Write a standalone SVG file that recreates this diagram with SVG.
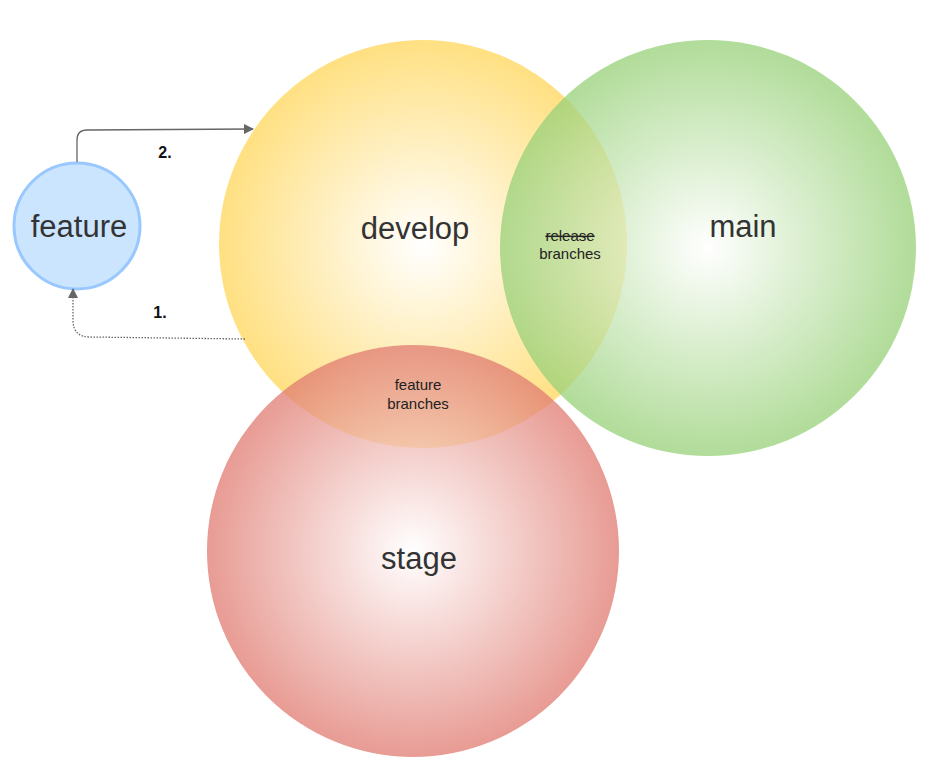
<svg xmlns="http://www.w3.org/2000/svg" width="935" height="763" viewBox="0 0 935 763">
<style>
.big{font-family:"Liberation Sans",Arial,sans-serif;font-size:31px;fill:#333;text-anchor:middle}
.small{font-family:"Liberation Sans",Arial,sans-serif;font-size:15px;fill:#222;text-anchor:middle}
.lbl{font-family:"Liberation Sans",Arial,sans-serif;font-size:16px;font-weight:bold;fill:#111;text-anchor:middle}
.conn{fill:none;stroke:#666;stroke-width:1.3}
</style>
<defs>
<radialGradient id="gDev" cx="0.5" cy="0.5" r="0.5"><stop offset="0" stop-color="#ffffff"/><stop offset="1" stop-color="#ffd966"/></radialGradient>
<radialGradient id="gMain" cx="0.5" cy="0.5" r="0.5"><stop offset="0" stop-color="#ffffff"/><stop offset="1" stop-color="#97d077"/></radialGradient>
<radialGradient id="gStage" cx="0.5" cy="0.5" r="0.5"><stop offset="0" stop-color="#ffffff"/><stop offset="1" stop-color="#e07a70"/></radialGradient>
<marker id="ah" viewBox="0 0 10 10" refX="9" refY="5" markerWidth="10" markerHeight="10" markerUnits="userSpaceOnUse" orient="auto"><path d="M0,0 L10,5 L0,10 z" fill="#666"/></marker>
</defs>
<g id="develop"><circle cx="423" cy="244" r="204" fill="url(#gDev)" opacity="0.82"/><text class="big" x="415" y="239">develop</text></g>
<g id="main"><circle cx="708" cy="248" r="208" fill="url(#gMain)" opacity="0.75"/><text class="big" x="743" y="237">main</text></g>
<g id="stage"><circle cx="413" cy="551" r="206" fill="url(#gStage)" opacity="0.75"/><text class="big" x="419" y="569">stage</text></g>
<g id="release-branches"><text class="small" x="570" y="241" style="text-decoration:line-through">release</text><text class="small" x="570" y="259">branches</text></g>
<g id="feature-branches"><text class="small" x="418" y="390">feature</text><text class="small" x="418" y="409">branches</text></g>
<g id="feature"><circle cx="77" cy="226" r="63" fill="#cce5ff" stroke="#99c8ff" stroke-width="3"/><text class="big" x="79" y="237">feature</text></g>
<g id="connectors">
<path class="conn" d="M77,162 L77,140 Q77,130 87,130 L253,129" marker-end="url(#ah)"/>
<path class="conn" d="M245,339 L90,337 Q73,337 73,320 L73,289" stroke-dasharray="1.5,1.5" marker-end="url(#ah)"/>
<text class="lbl" x="165" y="158">2.</text>
<text class="lbl" x="160" y="318">1.</text>
</g>
</svg>
